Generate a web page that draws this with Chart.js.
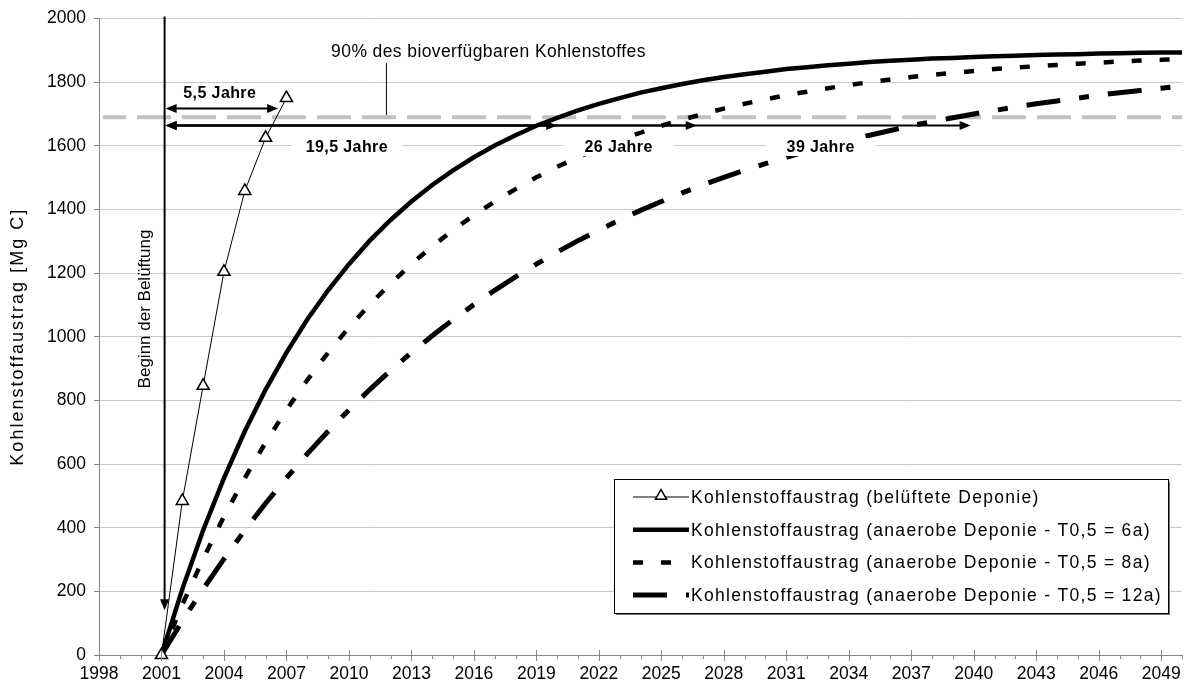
<!DOCTYPE html>
<html>
<head>
<meta charset="utf-8">
<title>Kohlenstoffaustrag</title>
<script src="https://cdn.jsdelivr.net/npm/chart.js@4.4.0/dist/chart.umd.min.js"></script>
<style>
  html, body { margin: 0; padding: 0; background: #fff; }
  #wrap { width: 1184px; height: 690px; }
</style>
</head>
<body>
<div id="wrap"><canvas id="carbon-chart" width="1184" height="690"></canvas></div>
<script>
// belüftete Deponie (Messjahre)
const aeratedYears = [2001, 2002, 2003, 2004, 2005, 2006, 2007];
const aeratedValues = [0, 484, 846, 1204, 1458, 1625, 1750];

// anaerobe Deponie, jährliche Werte 2001-2050
const anaerobeYears = [2001, 2002, 2003, 2004, 2005, 2006, 2007, 2008, 2009, 2010,
  2011, 2012, 2013, 2014, 2015, 2016, 2017, 2018, 2019, 2020,
  2021, 2022, 2023, 2024, 2025, 2026, 2027, 2028, 2029, 2030,
  2031, 2032, 2033, 2034, 2035, 2036, 2037, 2038, 2039, 2040,
  2041, 2042, 2043, 2044, 2045, 2046, 2047, 2048, 2049, 2050];
const anaerobe6a = [0, 207, 392, 556, 703, 834, 950, 1054, 1146, 1228,
  1302, 1367, 1425, 1477, 1523, 1564, 1601, 1633, 1663, 1688,
  1711, 1732, 1750, 1767, 1781, 1794, 1806, 1816, 1825, 1833,
  1841, 1847, 1853, 1858, 1863, 1867, 1870, 1874, 1876, 1879,
  1881, 1883, 1885, 1887, 1888, 1890, 1891, 1892, 1893, 1893];
const anaerobe8a = [0, 158, 302, 435, 556, 668, 770, 864, 950, 1029,
  1101, 1167, 1228, 1284, 1335, 1382, 1425, 1464, 1501, 1534,
  1564, 1592, 1618, 1641, 1663, 1682, 1700, 1717, 1732, 1746,
  1759, 1770, 1781, 1791, 1800, 1808, 1816, 1823, 1829, 1835,
  1841, 1846, 1850, 1854, 1858, 1861, 1865, 1868, 1870, 1873];
const anaerobe12a = [0, 107, 207, 302, 392, 477, 556, 632, 703, 770,
  834, 894, 950, 1003, 1054, 1101, 1146, 1188, 1228, 1266,
  1302, 1335, 1367, 1397, 1425, 1452, 1477, 1501, 1523, 1544,
  1564, 1583, 1601, 1618, 1633, 1648, 1663, 1676, 1688, 1700,
  1711, 1722, 1732, 1741, 1750, 1759, 1767, 1774, 1781, 1788];

const seriesLabels = [
  'Kohlenstoffaustrag (belüftete Deponie)',
  'Kohlenstoffaustrag (anaerobe Deponie - T0,5 = 6a)',
  'Kohlenstoffaustrag (anaerobe Deponie - T0,5 = 8a)',
  'Kohlenstoffaustrag (anaerobe Deponie - T0,5 = 12a)'
];

const xTickYears = [1998, 2001, 2004, 2007, 2010, 2013, 2016, 2019, 2022, 2025,
  2028, 2031, 2034, 2037, 2040, 2043, 2046, 2049];
const yTickValues = [0, 200, 400, 600, 800, 1000, 1200, 1400, 1600, 1800, 2000];

// Markierungen im Diagramm
const threshold90 = 1690;
const aerationStart = 2001.15;
const aerationArrowTip = 141;
const spanStartYear = 2001.2;
const spanEndYears = [2006.6, 2020.0, 2026.7, 2039.85];
const spanLevels = [1717, 1664, 1664, 1664];
const spanLabels = ['5,5 Jahre', '19,5 Jahre', '26 Jahre', '39 Jahre'];
const spanLabelYears = [2003.8, 2009.9, 2022.95, 2032.65];
const spanLabelValues = [1766, 1596, 1596, 1596];

const FONT = '"Liberation Sans", Arial, sans-serif';
Chart.defaults.font.family = FONT;
Chart.defaults.color = '#000';

const toPoints = (xs, ys) => xs.map((x, i) => ({x: x, y: ys[i]}));

function setSpacing(ctx, px) {
  if ('letterSpacing' in ctx) ctx.letterSpacing = px + 'px';
}

function arrowHead(ctx, x, y, dx, dy) {
  // Spitze bei (x, y), Richtung (dx, dy)
  const len = 11, half = 4.5;
  ctx.beginPath();
  ctx.moveTo(x, y);
  ctx.lineTo(x - dx * len - dy * half, y - dy * len + dx * half);
  ctx.lineTo(x - dx * len + dy * half, y - dy * len - dx * half);
  ctx.closePath();
  ctx.fill();
}

const notesPlugin = {
  id: 'carbonNotes',
  beforeDatasetsDraw(chart) {
    const {ctx, chartArea} = chart;
    const y = chart.scales.y;
    const yy = y.getPixelForValue(threshold90);
    ctx.save();
    ctx.strokeStyle = '#c0c0c0';
    ctx.lineWidth = 4;
    ctx.setLineDash([34, 11]);
    ctx.lineDashOffset = 11;
    ctx.beginPath();
    ctx.moveTo(chartArea.left + 4, yy);
    ctx.lineTo(chartArea.right, yy);
    ctx.stroke();
    ctx.restore();
  },
  afterDatasetsDraw(chart) {
    const {ctx, chartArea} = chart;
    const x = chart.scales.x, y = chart.scales.y;
    ctx.save();

    // Teilstriche der Zeitachse
    ctx.strokeStyle = '#868686';
    ctx.lineWidth = 1;
    ctx.beginPath();
    for (let yr = x.min; yr <= x.max; yr++) {
      const px = Math.round(x.getPixelForValue(yr)) + 0.5;
      const major = (yr - xTickYears[0]) % 3 === 0;
      ctx.moveTo(px, chartArea.bottom - (major ? 5 : 0));
      ctx.lineTo(px, chartArea.bottom + (major ? 6 : 4));
    }
    ctx.stroke();

    ctx.fillStyle = '#000';
    ctx.strokeStyle = '#000';

    // Beginn der Belüftung
    const ax = x.getPixelForValue(aerationStart);
    const tipY = y.getPixelForValue(aerationArrowTip);
    ctx.lineWidth = 2;
    ctx.beginPath();
    ctx.moveTo(ax, chartArea.top - 2);
    ctx.lineTo(ax, tipY - 8);
    ctx.stroke();
    arrowHead(ctx, ax, tipY, 0, 1);

    // Zeitspannen bis 90 %
    const sx = x.getPixelForValue(spanStartYear);
    spanEndYears.forEach((end, i) => {
      const py = y.getPixelForValue(spanLevels[i]);
      const ex = x.getPixelForValue(end);
      ctx.lineWidth = 2;
      ctx.beginPath();
      ctx.moveTo(sx + 6, py);
      ctx.lineTo(ex - 6, py);
      ctx.stroke();
      arrowHead(ctx, ex, py, 1, 0);
      arrowHead(ctx, sx, py, -1, 0);
    });

    ctx.font = 'bold 16px ' + FONT;
    setSpacing(ctx, 0.4);
    ctx.textAlign = 'center';
    ctx.textBaseline = 'middle';
    spanLabels.forEach((txt, i) => {
      const lx = x.getPixelForValue(spanLabelYears[i]);
      const ly = y.getPixelForValue(spanLabelValues[i]);
      if (i > 0) {
        ctx.fillStyle = '#fff';
        ctx.fillRect(lx - 55, ly - 9, 110, 18);
      }
      ctx.fillStyle = '#000';
      ctx.fillText(txt, lx, ly + 1);
    });

    // 90 %-Hinweis
    const nx = x.getPixelForValue(2011.8);
    ctx.lineWidth = 1;
    ctx.beginPath();
    ctx.moveTo(nx, y.getPixelForValue(1860));
    ctx.lineTo(nx, y.getPixelForValue(threshold90) - 2);
    ctx.stroke();
    ctx.font = '17.5px ' + FONT;
    setSpacing(ctx, 0.4);
    ctx.fillText('90% des bioverfügbaren Kohlenstoffes', x.getPixelForValue(2016.7), y.getPixelForValue(1893));

    // senkrechte Beschriftung
    ctx.save();
    ctx.translate(ax - 19, 309);
    ctx.rotate(-Math.PI / 2);
    ctx.font = '17px ' + FONT;
    setSpacing(ctx, 0);
    ctx.fillText('Beginn der Belüftung', 0, 0);
    ctx.restore();

    // Achsentitel
    ctx.save();
    ctx.translate(18, (chartArea.top + chartArea.bottom) / 2);
    ctx.rotate(-Math.PI / 2);
    ctx.font = '18px ' + FONT;
    setSpacing(ctx, 2);
    ctx.fillText('Kohlenstoffaustrag [Mg C]', 0, 0);
    ctx.restore();

    // Legende
    const box = {left: chartArea.right - 568, top: chartArea.bottom - 176, width: 554, height: 134};
    ctx.fillStyle = '#fff';
    ctx.fillRect(box.left, box.top, box.width, box.height);
    ctx.strokeStyle = '#7a7a7a';
    ctx.lineWidth = 2;
    ctx.beginPath();
    ctx.moveTo(box.left + 2, box.top + box.height + 1);
    ctx.lineTo(box.left + box.width + 1, box.top + box.height + 1);
    ctx.lineTo(box.left + box.width + 1, box.top + 2);
    ctx.stroke();
    ctx.strokeStyle = '#000';
    ctx.lineWidth = 1;
    ctx.strokeRect(box.left + 0.5, box.top + 0.5, box.width, box.height);

    ctx.textAlign = 'left';
    ctx.font = '17.5px ' + FONT;
    chart.data.datasets.forEach((ds, i) => {
      const ry = box.top + 18 + i * 32.7;
      const x0 = box.left + 19, x1 = box.left + 75;
      ctx.save();
      ctx.strokeStyle = '#000';
      ctx.lineWidth = ds.borderWidth;
      ctx.setLineDash(ds.borderDash || []);
      ctx.beginPath();
      ctx.moveTo(x0, ry);
      ctx.lineTo(x1, ry);
      ctx.stroke();
      ctx.restore();
      if (ds.pointStyle === 'triangle') {
        const r = 6.5, cx = (x0 + x1) / 2, cy = ry - 1;
        ctx.beginPath();
        ctx.moveTo(cx, cy - r);
        ctx.lineTo(cx + r * 0.866, cy + r / 2);
        ctx.lineTo(cx - r * 0.866, cy + r / 2);
        ctx.closePath();
        ctx.fillStyle = '#fff';
        ctx.fill();
        ctx.lineWidth = 1.5;
        ctx.stroke();
      }
      ctx.fillStyle = '#000';
      setSpacing(ctx, 1.3);
      ctx.fillText(ds.label, x1 + 2, ry + 1);
    });

    ctx.restore();
  }
};

const gridColor = '#c8c8c8';
const axisColor = '#868686';

new Chart(document.getElementById('carbon-chart'), {
  type: 'line',
  data: {
    datasets: [
      {
        label: seriesLabels[0],
        data: toPoints(aeratedYears, aeratedValues),
        borderColor: '#000',
        borderWidth: 1,
        pointStyle: 'triangle',
        pointRadius: 7,
        pointBackgroundColor: '#fff',
        pointBorderColor: '#000',
        pointBorderWidth: 1.5,
        clip: false
      },
      {
        label: seriesLabels[1],
        data: toPoints(anaerobeYears, anaerobe6a),
        borderColor: '#000',
        borderWidth: 4.5,
        pointRadius: 0
      },
      {
        label: seriesLabels[2],
        data: toPoints(anaerobeYears, anaerobe8a),
        borderColor: '#000',
        borderWidth: 4.5,
        borderDash: [10, 18],
        pointRadius: 0
      },
      {
        label: seriesLabels[3],
        data: toPoints(anaerobeYears, anaerobe12a),
        borderColor: '#000',
        borderWidth: 5,
        borderDash: [34, 19, 10, 19],
        pointRadius: 0
      }
    ]
  },
  options: {
    responsive: false,
    animation: false,
    events: [],
    layout: {autoPadding: false, padding: {top: 17, right: 2, left: 0, bottom: 0}},
    plugins: {
      legend: {display: false},
      tooltip: {enabled: false}
    },
    scales: {
      x: {
        type: 'linear',
        min: 1998,
        max: 2050,
        afterBuildTicks: (scale) => { scale.ticks = xTickYears.map(v => ({value: v})); },
        afterFit: (scale) => {
          scale.height = 35;
          scale.paddingLeft = 0;
          scale.paddingRight = 0;
        },
        grid: {display: true, drawOnChartArea: false, drawTicks: false},
        border: {display: true, color: axisColor, width: 1},
        ticks: {
          font: {size: 17.5},
          padding: 9,
          maxRotation: 0,
          autoSkip: false,
          callback: (v) => String(v)
        }
      },
      y: {
        min: 0,
        max: 2000,
        afterBuildTicks: (scale) => { scale.ticks = yTickValues.map(v => ({value: v})); },
        afterFit: (scale) => { scale.width = 99; },
        grid: {
          color: (c) => (c.tick && c.tick.value === 0) ? 'rgba(0,0,0,0)' : gridColor,
          lineWidth: 1,
          drawTicks: true,
          tickLength: 5,
          tickColor: axisColor
        },
        border: {display: true, color: axisColor, width: 1},
        ticks: {
          font: {size: 17.5},
          padding: 8,
          callback: (v) => String(v)
        }
      }
    }
  },
  plugins: [notesPlugin]
});
</script>
</body>
</html>
